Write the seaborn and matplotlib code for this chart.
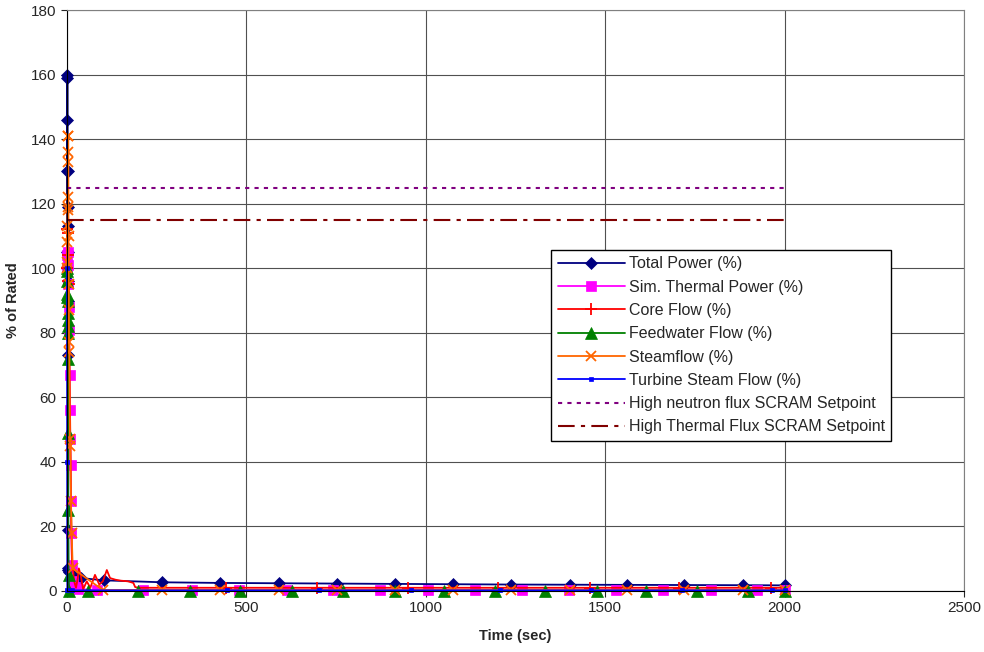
import matplotlib
matplotlib.use('Agg')
import matplotlib.pyplot as plt
import seaborn as sns

# Total Power (%)
tp_t = [0, 0.3, 0.6, 0.9, 1.1, 1.3, 1.5, 1.7, 1.9, 2.1, 2.3, 2.5, 2.7, 3.0, 3.4, 4.0, 6, 12, 20, 40, 103,
        265, 426, 590, 752, 913, 1075, 1237, 1401, 1560, 1721, 1883, 2000]
tp_v = [100, 105, 130, 159, 160, 146, 130, 119, 113, 105, 96, 90, 73, 19, 7, 6.5, 6, 5.5, 4.8, 4.0, 3.3,
        2.7, 2.5, 2.4, 2.3, 2.2, 2.1, 2.0, 1.95, 1.9, 1.85, 1.8, 1.75]

# Sim. Thermal Power (%)
st_t = [0, 1, 2, 3, 4, 5, 6, 7, 8, 9, 10, 11, 12, 14, 17, 22, 30, 84,
        212, 348, 479, 613, 741, 872, 1005, 1136, 1267, 1398, 1530, 1660, 1794, 1922, 2000]
st_v = [100, 104, 105, 101, 95, 88, 81, 67, 56, 47, 39, 28, 18, 8, 3, 1.2, 0.6, 0.3,
        0.3, 0.3, 0.3, 0.3, 0.3, 0.3, 0.3, 0.3, 0.3, 0.3, 0.3, 0.3, 0.3, 0.3, 0.3]

# Core Flow (%)
cf_t = [0, 1, 2, 3, 4, 5, 6, 8, 10, 12, 14, 16, 20, 25, 30, 33, 38, 45, 55, 65, 78, 90, 100, 111,
        120, 135, 150, 170, 185, 190, 200, 443, 696, 950, 1200, 1457, 1707, 1961, 2000]
cf_v = [100, 112, 111, 104, 96, 95, 80, 60, 40, 20, 9, 7.5, 3, 1, 4, 7, 5, 0.5, 3, 1, 5, 2, 3, 6.5,
        4, 3.5, 3.2, 3, 2.5, 1.2, 1.0, 1.0, 1.0, 1.0, 1.0, 1.0, 1.0, 1.0, 1.0]
cf_marked = [0, 1, 2, 3, 4, 5, 31, 32, 33, 34, 35, 36, 37]

# Feedwater Flow (%)
fw_t = [0, 0.3, 0.6, 0.9, 1.2, 1.5, 1.8, 2.1, 2.4, 2.7, 3.0, 3.4, 3.8, 4.5, 6, 58,
        198, 343, 482, 627, 768, 913, 1050, 1192, 1331, 1476, 1615, 1757, 1897, 2000]
fw_v = [100, 99, 96, 92, 91, 90, 86, 84, 82, 80, 72, 49, 25, 5, 0, 0,
        0, 0, 0, 0, 0, 0, 0, 0, 0, 0, 0, 0, 0, 0]

# Steamflow (%)
sf_t = [0, 0.4, 0.8, 1.2, 1.6, 2.0, 2.4, 2.8, 3.2, 3.6, 4.0, 4.4, 4.8, 5.2, 5.6, 6.5, 8, 9.5, 11, 13, 16, 100,
        265, 426, 590, 752, 913, 1075, 1237, 1401, 1560, 1721, 1883, 2000]
sf_v = [100, 102, 108, 113, 119, 122, 133, 136, 141, 141, 118, 110, 95, 87, 77, 74, 47, 45, 28, 18, 7, 0.3,
        0.3, 0.3, 0.3, 0.3, 0.3, 0.3, 0.3, 0.3, 0.3, 0.3, 0.3, 0.3]

# Turbine Steam Flow (%)
ts_t = [0, 0.5, 1.0, 14, 446, 702, 958, 1206, 1460, 1713, 1964, 2000]
ts_v = [100, 40, 0.2, 0.2, 0.2, 0.2, 0.2, 0.2, 0.2, 0.2, 0.2, 0.2]

# SCRAM setpoints
sp_t = [0, 2000]
neutron_sp = [125, 125]
thermal_sp = [115, 115]

sns.set_style("white")
plt.rcParams['font.family'] = ['Liberation Sans', 'DejaVu Sans']

fig = plt.figure(figsize=(9.84, 6.52), dpi=100)
ax = fig.add_axes([67 / 984, 1 - 591 / 652, 897 / 984, 581 / 652])

series = [
    (tp_t, tp_v, "Total Power (%)", "#000080", "D", 6, None),
    (st_t, st_v, "Sim. Thermal Power (%)", "#FF00FF", "s", 7, None),
    (cf_t, cf_v, "Core Flow (%)", "#FF0000", "+", 9, cf_marked),
    (fw_t, fw_v, "Feedwater Flow (%)", "#008000", "^", 8, None),
    (sf_t, sf_v, "Steamflow (%)", "#FF6600", "x", 7, None),
    (ts_t, ts_v, "Turbine Steam Flow (%)", "#0000FF", "s", 3, None),
]
for t, v, lab, col, mk, ms, every in series:
    sns.lineplot(x=t, y=v, ax=ax, color=col, marker=mk, markersize=ms, linewidth=1.3,
                 markeredgecolor=col, markeredgewidth=1.3 if mk in "+x" else 0.5,
                 markevery=every, clip_on=False, sort=False, estimator=None, label=lab)

sns.lineplot(x=sp_t, y=neutron_sp, ax=ax, color="#800080", linewidth=1.5,
             linestyle=(0, (2, 2.5)), label="High neutron flux SCRAM Setpoint")
sns.lineplot(x=sp_t, y=thermal_sp, ax=ax, color="#800000", linewidth=1.5,
             linestyle=(0, (8, 3, 2, 3)), label="High Thermal Flux SCRAM Setpoint")

ax.set_xlim(0, 2500)
ax.set_ylim(0, 180)
ax.set_xticks(range(0, 2501, 500))
ax.set_yticks(range(0, 181, 20))
ax.grid(True, color="#505050", linewidth=0.8)
ax.set_axisbelow(True)
for s in ["top", "right"]:
    ax.spines[s].set_color("#808080")
for s in ["left", "bottom"]:
    ax.spines[s].set_color("black")
ax.tick_params(axis="both", labelsize=11, length=4, direction="out", left=True, bottom=True)
ax.set_xlabel("Time (sec)", fontsize=10.5, fontweight="bold", labelpad=10)
ax.set_ylabel("% of Rated", fontsize=10.5, fontweight="bold", labelpad=8)

leg = ax.legend(loc="upper left", bbox_to_anchor=(0.54, 0.587), fontsize=11.5, frameon=True,
                fancybox=False, edgecolor="black", framealpha=1, handlelength=4.2,
                labelspacing=0.52, borderpad=0.4, handletextpad=0.25, borderaxespad=0)
leg.get_frame().set_linewidth(1.0)

plt.savefig("out.png", dpi=100)
plt.close()
